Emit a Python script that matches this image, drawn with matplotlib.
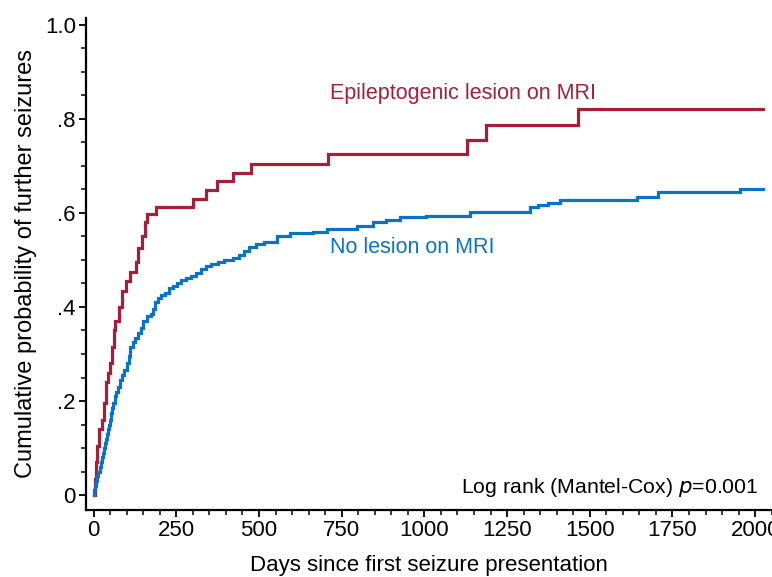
import matplotlib
matplotlib.use("Agg")
import matplotlib.pyplot as plt
from matplotlib.ticker import MultipleLocator, FixedLocator

plt.rcParams['font.family'] = ['Liberation Sans', 'DejaVu Sans']

# Epileptogenic lesion on MRI (days, cumulative probability after each step)
lesion_days = [0, 3, 6, 10, 17, 25, 30, 38, 44, 51, 56, 62, 64, 76, 87, 99, 110,
               127, 135, 145, 155, 162, 190, 300, 339, 374, 420, 475, 708, 1129,
               1185, 1465, 2025]
lesion_prob = [0.0, 0.035, 0.07, 0.105, 0.14, 0.16, 0.195, 0.24, 0.26, 0.28, 0.315,
               0.35, 0.37, 0.40, 0.435, 0.455, 0.475, 0.495, 0.525, 0.55, 0.58,
               0.597, 0.613, 0.63, 0.649, 0.667, 0.684, 0.704, 0.725, 0.755,
               0.787, 0.822, 0.822]

# No lesion on MRI
nolesion_days = [0, 2, 5, 8, 11, 14, 18, 21, 24, 27, 30, 33, 36, 39, 42, 46, 49,
                 52, 56, 60, 64, 69, 75, 81, 87, 92, 100, 106, 111, 118, 125, 135,
                 142, 150, 160, 172, 180, 186, 195, 205, 215, 228, 240, 252, 265,
                 280, 295, 310, 325, 340, 355, 375, 395, 420, 440, 455, 470, 490,
                 515, 554, 593, 625, 663, 705, 795, 845, 885, 926, 1006, 1138,
                 1319, 1344, 1374, 1410, 1642, 1707, 1955, 2025]
nolesion_prob = [0.0, 0.01, 0.02, 0.03, 0.04, 0.05, 0.06, 0.07, 0.08, 0.09, 0.10,
                 0.11, 0.12, 0.13, 0.14, 0.15, 0.16, 0.175, 0.185, 0.195, 0.21,
                 0.22, 0.23, 0.245, 0.255, 0.265, 0.28, 0.295, 0.315, 0.325, 0.335,
                 0.345, 0.355, 0.37, 0.38, 0.385, 0.395, 0.41, 0.42, 0.425, 0.43,
                 0.44, 0.445, 0.452, 0.458, 0.462, 0.466, 0.473, 0.48, 0.487, 0.492,
                 0.496, 0.50, 0.505, 0.51, 0.52, 0.528, 0.535, 0.538, 0.55, 0.557,
                 0.558, 0.56, 0.565, 0.572, 0.58, 0.586, 0.592, 0.594, 0.603,
                 0.613, 0.617, 0.622, 0.628, 0.633, 0.645, 0.651, 0.651]

x_ticks = [0, 250, 500, 750, 1000, 1250, 1500, 1750, 2000]
y_ticks = [0.0, 0.2, 0.4, 0.6, 0.8, 1.0]
y_ticklabels = ["0", ".2", ".4", ".6", ".8", "1.0"]

RED = "#A4203A"
BLUE = "#0A74C4"

fig = plt.figure(figsize=(7.72, 5.77), dpi=100)
ax = fig.add_axes([0.111, 0.116, 0.889, 0.853])

ax.plot(lesion_days, lesion_prob, drawstyle='steps-post', color=RED, lw=2.3,
        solid_joinstyle='miter')
ax.plot(nolesion_days, nolesion_prob, drawstyle='steps-post', color=BLUE, lw=2.3,
        solid_joinstyle='miter')

ax.set_xlim(-24, 2051)
ax.set_ylim(-0.032, 1.015)

ax.xaxis.set_major_locator(FixedLocator(x_ticks))
ax.xaxis.set_minor_locator(MultipleLocator(50))
ax.yaxis.set_major_locator(FixedLocator(y_ticks))
ax.yaxis.set_minor_locator(MultipleLocator(0.05))
ax.set_yticklabels(y_ticklabels)

for s in ['top', 'right']:
    ax.spines[s].set_visible(False)
for s in ['left', 'bottom']:
    ax.spines[s].set_linewidth(1.6)

ax.tick_params(which='major', direction='out', length=5, width=1.3,
               labelsize=16, pad=2)
ax.tick_params(which='minor', direction='out', length=3.5, width=1.1)

ax.set_xlabel("Days since first seizure presentation", fontsize=16, labelpad=10)
ax.set_ylabel("Cumulative probability of further seizures", fontsize=17,
              labelpad=6)

ax.text(714, 0.855, "Epileptogenic lesion on MRI", color=RED, fontsize=15.5,
        va='center', ha='left')
ax.text(714, 0.526, "No lesion on MRI", color=BLUE, fontsize=15.5,
        va='center', ha='left')
ax.text(2009, 0.017, "Log rank (Mantel-Cox) $\\it{p}$=0.001", color='black',
        fontsize=15.3, va='center', ha='right')

fig.savefig("out.png", dpi=100)
